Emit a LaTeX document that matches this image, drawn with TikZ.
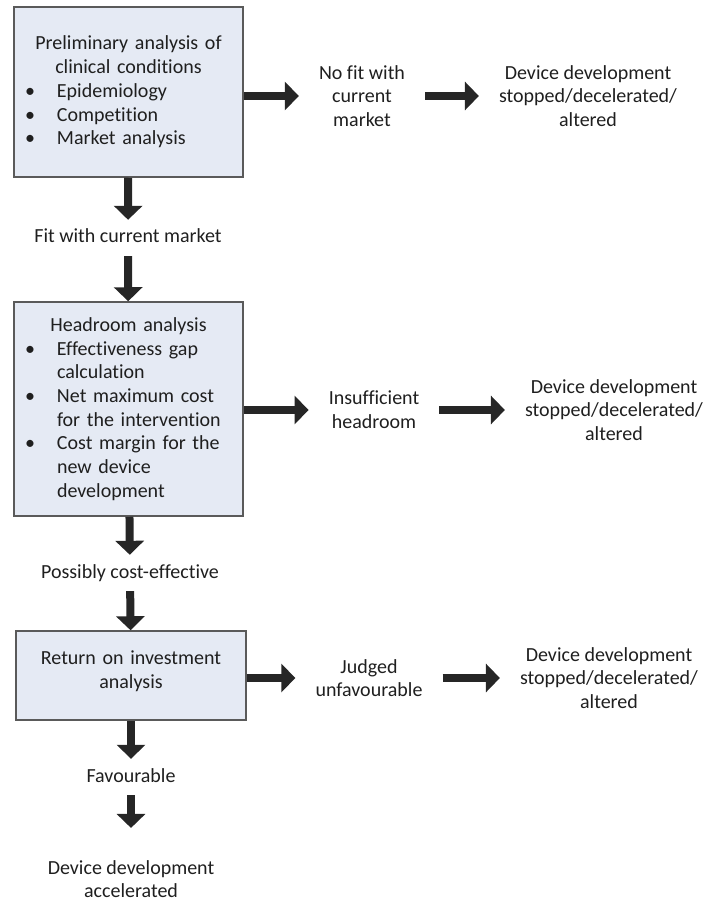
\documentclass[tikz,border=0pt]{standalone}
\usepackage{fontspec}
\setmainfont{Carlito}[Ligatures=NoCommon]
\usepackage{tikz}
\usetikzlibrary{arrows.meta}
\usepackage{xcolor}
\definecolor{boxfill}{RGB}{229,234,244}
\definecolor{boxline}{RGB}{90,90,90}
\definecolor{arrowcol}{RGB}{38,38,38}
\newcommand{\bitem}{\par\noindent\hangindent=36pt\makebox[36pt][l]{\hspace{4pt}\textbullet}}

\begin{document}
\begin{tikzpicture}[x=1pt, y=-1pt,
        every node/.style = {font=\fontsize{20}{23.7}\selectfont, text=black!88},
        stage/.style = {draw=boxline, line width=1.5pt, fill=boxfill, inner xsep=7pt, text width=215pt, align=left},
        outcome/.style = {align=center, inner xsep=20pt, inner ysep=9pt},
        result/.style = {text height=14pt, text depth=4pt, inner ysep=9pt},
        bigarrow/.style = {arrowcol, line width=8pt, -{Triangle[length=14pt, width=28pt]}}]
        \useasboundingbox (0,0) rectangle (712,901);

        % Market
        \node[stage, minimum height=170pt] (prelim) at (128.5,92) {\raggedright{\centering Preliminary analysis of\\ clinical conditions\par}\bitem Epidemiology\bitem Competition\bitem Market analysis\par};
        \node[outcome] (nofit) at (362,96) {No fit with\\ current\\ market};
        \node[outcome] (stop1) at (588,96) {Device development\\ stopped/decelerated/\\ altered};
        \node[result] (fit) at (128,238) {Fit with current market};
        \draw[bigarrow] (prelim.east |- nofit) -- (nofit.west);
        \draw[bigarrow] (nofit) -- (stop1);
        \draw[bigarrow] (prelim) -- (fit);

        % Headroom
        \node[stage, minimum height=214pt] (headroom) at (128.5,409) {\raggedright{\centering Headroom analysis\par}\bitem Effectiveness gap\newline calculation\bitem Net maximum cost\newline for the intervention\bitem Cost margin for the\newline new device\newline development\par};
        \node[outcome] (insuf) at (374,410) {Insufficient\\ headroom};
        \node[outcome] (stop2) at (614,410) {Device development\\ stopped/decelerated/\\ altered};
        \node[result] (costeff) at (130,573) {Possibly cost-effective};
        \draw[bigarrow] (fit) -- (headroom);
        \draw[bigarrow] (headroom.east |- insuf) -- (insuf.west);
        \draw[bigarrow] (insuf) -- (stop2);
        \draw[bigarrow] (headroom) -- (costeff);

        % Return on investment
        \node[stage, align=center, text width=216pt, minimum height=89pt] (roi) at (131,675.5) {Return on investment\\ analysis\\[-12pt]\mbox{}};
        \node[outcome] (judged) at (369,678) {Judged\\ unfavourable};
        \node[outcome] (stop3) at (609,678) {Device development\\ stopped/decelerated/\\ altered};
        \node[result] (fav) at (131,777) {Favourable};
        \node[outcome] (accel) at (131,879) {Device development\\ accelerated};
        \draw[bigarrow] (costeff) -- (roi);
        \draw[bigarrow] (roi.east |- judged) -- (judged.west);
        \draw[bigarrow] (judged) -- (stop3);
        \draw[bigarrow] (roi) -- (fav);
        \draw[bigarrow, shorten >=23pt] (fav) -- (accel);
    \end{tikzpicture}
\end{document}
